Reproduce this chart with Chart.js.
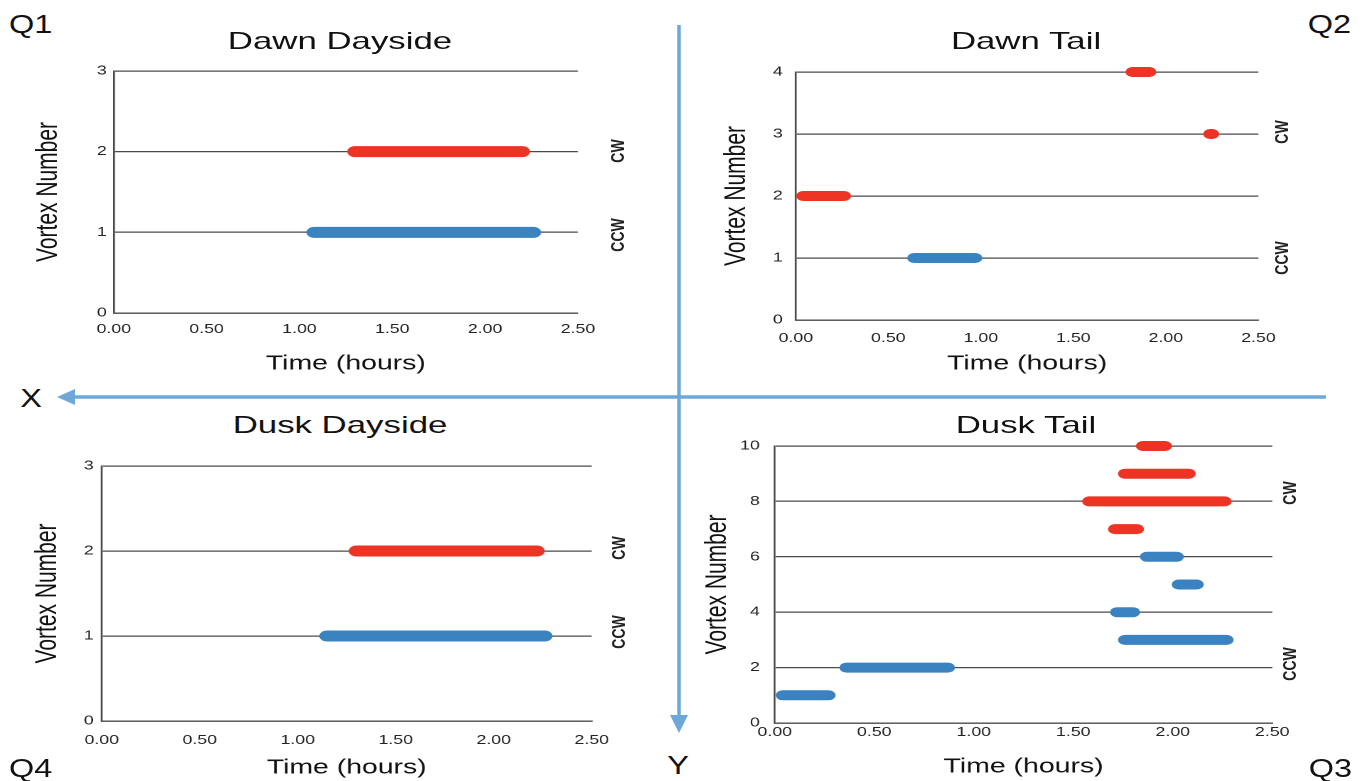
<!DOCTYPE html>
<html>
<head>
<meta charset="utf-8">
<script src="https://cdn.jsdelivr.net/npm/chart.js@4.4.1/dist/chart.umd.min.js"></script>
<style>
  html, body { margin:0; padding:0; background:#fff; }
  body { position:relative; width:1364px; height:781px; overflow:hidden; font-family:'Liberation Sans', Arial, sans-serif; }
  .t { position:absolute; white-space:nowrap; line-height:1; color:#111; }
</style>
</head>
<body>
<svg width="1364" height="781" style="position:absolute;left:0;top:0">
  <line x1="1326" y1="397" x2="70" y2="397" stroke="#6ea8d9" stroke-width="3.5"/>
  <polygon points="57,397 75,389 75,405" fill="#6ea8d9"/>
  <line x1="679" y1="25" x2="679" y2="718" stroke="#6ea8d9" stroke-width="3.5"/>
  <polygon points="679,733 670,715 688,715" fill="#6ea8d9"/>
</svg>
<script>
// ---------- data ----------
const xTickValues = [0, 0.5, 1, 1.5, 2, 2.5];
const senseLabels = ['CW', 'CCW'];

// Q1 Dawn Dayside
const dawnDaysideVortex = [2, 1];
const dawnDaysideStart  = [1.30, 1.08];
const dawnDaysideEnd    = [2.20, 2.26];
const dawnDaysideSense  = ['CW', 'CCW'];

// Q2 Dawn Tail
const dawnTailVortex = [4, 3, 2, 1];
const dawnTailStart  = [1.82, 2.24, 0.04, 0.64];
const dawnTailEnd    = [1.91, 2.25, 0.26, 0.97];
const dawnTailSense  = ['CW', 'CW', 'CW', 'CCW'];

// Q4 Dusk Dayside
const duskDaysideVortex = [2, 1];
const duskDaysideStart  = [1.30, 1.15];
const duskDaysideEnd    = [2.22, 2.26];
const duskDaysideSense  = ['CW', 'CCW'];

// Q3 Dusk Tail
const duskTailVortex = [10, 9, 8, 7, 6, 5, 4, 3, 2, 1];
const duskTailStart  = [1.85, 1.76, 1.58, 1.71, 1.87, 2.03, 1.72, 1.76, 0.36, 0.04];
const duskTailEnd    = [1.96, 2.08, 2.26, 1.82, 2.02, 2.12, 1.80, 2.27, 0.87, 0.27];
const duskTailSense  = ['CW', 'CW', 'CW', 'CW', 'CCW', 'CCW', 'CCW', 'CCW', 'CCW', 'CCW'];

// ---------- styling ----------
const RED = '#ec3324';
const BLUE = '#3b82c0';
const GRID = '#4a4a4a';
const S = 1.42; // horizontal stretch of the figure
const TOPPAD = 26;

Chart.defaults.font.family = "'Liberation Sans', Arial, sans-serif";
Chart.defaults.color = '#222';

function addText(txt, x, y, size, opts) {
  const d = document.createElement('div');
  d.className = 't';
  d.textContent = txt;
  d.style.fontSize = size + 'px';
  d.style.left = x + 'px';
  d.style.top = y + 'px';
  if (opts.weight) d.style.fontWeight = opts.weight;
  if (opts.color) d.style.color = opts.color;
  d.style.transform = opts.transform;
  d.style.transformOrigin = opts.origin || '50% 50%';
  document.body.appendChild(d);
}

function panel(cfg) {
  const L = cfg.yTitleX - 16 * S;
  const R = cfg.plotR + 45;
  const lw = Math.round((R - L) / S);
  const top = cfg.plotT - TOPPAD;
  const h = Math.round(cfg.xTitleY + 16 - top);
  const canvas = document.createElement('canvas');
  canvas.width = lw; canvas.height = h;
  canvas.style.position = 'absolute';
  canvas.style.left = L + 'px';
  canvas.style.top = top + 'px';
  canvas.style.width = (lw * S) + 'px';
  canvas.style.height = h + 'px';
  document.body.appendChild(canvas);
  const yAxisW = (cfg.plotL - L) / S;
  const plotW = (cfg.plotR - cfg.plotL) / S;
  const rightPad = lw - yAxisW - plotW;
  const xAxisH = h - TOPPAD - (cfg.plotB - cfg.plotT);

  const datasets = cfg.vortex.map((v, i) => ({
    data: [{x: cfg.start[i], y: v}, {x: cfg.end[i], y: v}],
    borderColor: cfg.sense[i] === 'CW' ? RED : BLUE,
    backgroundColor: cfg.sense[i] === 'CW' ? RED : BLUE,
    borderWidth: cfg.thick,
    borderCapStyle: 'round',
    showLine: true,
    pointRadius: 0,
    pointHoverRadius: 0,
    fill: false,
    clip: 20
  }));

  new Chart(canvas, {
    type: 'scatter',
    data: { datasets },
    options: {
      responsive: false,
      animation: false,
      devicePixelRatio: 2,
      layout: { padding: { top: TOPPAD, right: rightPad, left: 0, bottom: 0 } },
      plugins: { legend: { display: false }, tooltip: { enabled: false } },
      scales: {
        x: {
          type: 'linear', min: 0, max: 2.5,
          afterBuildTicks: s => { s.ticks = xTickValues.map(v => ({value: v})); },
          ticks: { callback: v => Number(v).toFixed(2), padding: cfg.xTickPad, maxRotation: 0, autoSkip: false, font: { size: 12.5 }, color: '#222' },
          grid: { display: false, drawTicks: false },
          border: { display: true, color: GRID, width: 1.3 },
          title: { display: true, text: 'Time (hours)', font: { size: 20 }, color: '#111', padding: { top: 4, bottom: 4 } },
          afterFit: s => { s.height = xAxisH; }
        },
        y: {
          type: 'linear', min: 0, max: cfg.yMax,
          ticks: { stepSize: cfg.yStep, padding: cfg.yTickPad / S, font: { size: 12.5 }, color: '#222' },
          grid: { display: true, color: GRID, lineWidth: 1.3, drawTicks: false },
          border: { display: true, color: GRID, width: 1.3 },
          title: { display: true, text: 'Vortex Number', font: { size: 21 }, color: '#111', padding: { top: 4, bottom: 4 } },
          afterFit: s => { s.width = yAxisW; }
        }
      }
    }
  });

  // panel title
  addText(cfg.title, cfg.titleX, cfg.titleY, 24, { transform: 'translate(-50%,-50%) scaleX(1.45)' });
  // rotation sense labels
  addText(senseLabels[0], cfg.senseX, cfg.cwY, 14, { weight: 'bold', color: '#222', transform: 'translate(-50%,-50%) scaleX(1.3) rotate(-90deg)' });
  addText(senseLabels[1], cfg.senseX, cfg.ccwY, 14, { weight: 'bold', color: '#222', transform: 'translate(-50%,-50%) scaleX(1.3) rotate(-90deg)' });
}

panel({ title: 'Dawn Dayside', titleX: 340, titleY: 41,
  vortex: dawnDaysideVortex, start: dawnDaysideStart, end: dawnDaysideEnd, sense: dawnDaysideSense,
  plotL: 114, plotR: 578, plotT: 71, plotB: 313, yMax: 3, yStep: 1,
  yTitleX: 48, xTitleY: 364, yTickPad: 7, xTickPad: 9, thick: 11,
  senseX: 617, cwY: 151, ccwY: 235 });

panel({ title: 'Dawn Tail', titleX: 1026, titleY: 41,
  vortex: dawnTailVortex, start: dawnTailStart, end: dawnTailEnd, sense: dawnTailSense,
  plotL: 796, plotR: 1258, plotT: 72, plotB: 320, yMax: 4, yStep: 1,
  yTitleX: 736, xTitleY: 364, yTickPad: 13, xTickPad: 11, thick: 10,
  senseX: 1281, cwY: 132, ccwY: 258 });

panel({ title: 'Dusk Dayside', titleX: 340, titleY: 425,
  vortex: duskDaysideVortex, start: duskDaysideStart, end: duskDaysideEnd, sense: duskDaysideSense,
  plotL: 102, plotR: 592, plotT: 466, plotB: 721, yMax: 3, yStep: 1,
  yTitleX: 47, xTitleY: 768, yTickPad: 8, xTickPad: 12, thick: 11,
  senseX: 618, cwY: 548, ccwY: 632 });

panel({ title: 'Dusk Tail', titleX: 1026, titleY: 425,
  vortex: duskTailVortex, start: duskTailStart, end: duskTailEnd, sense: duskTailSense,
  plotL: 775, plotR: 1272, plotT: 446, plotB: 723, yMax: 10, yStep: 2,
  yTitleX: 717, xTitleY: 767, yTickPad: 15, xTickPad: 2, thick: 10,
  senseX: 1289, cwY: 493, ccwY: 664 });

// quadrant and axis markers
addText('Q1', 9, 24, 25, { transform: 'translateY(-50%) scaleX(1.3)', origin: '0 50%' });
addText('Q4', 9, 768, 25, { transform: 'translateY(-50%) scaleX(1.3)', origin: '0 50%' });
addText('Q2', 1351, 24, 25, { transform: 'translate(-100%,-50%) scaleX(1.3)', origin: '100% 50%' });
addText('Q3', 1352, 768, 25, { transform: 'translate(-100%,-50%) scaleX(1.3)', origin: '100% 50%' });
addText('X', 31, 398, 25, { transform: 'translate(-50%,-50%) scaleX(1.3)' });
addText('Y', 678, 765, 25, { transform: 'translate(-50%,-50%) scaleX(1.3)' });
</script>
</body>
</html>
